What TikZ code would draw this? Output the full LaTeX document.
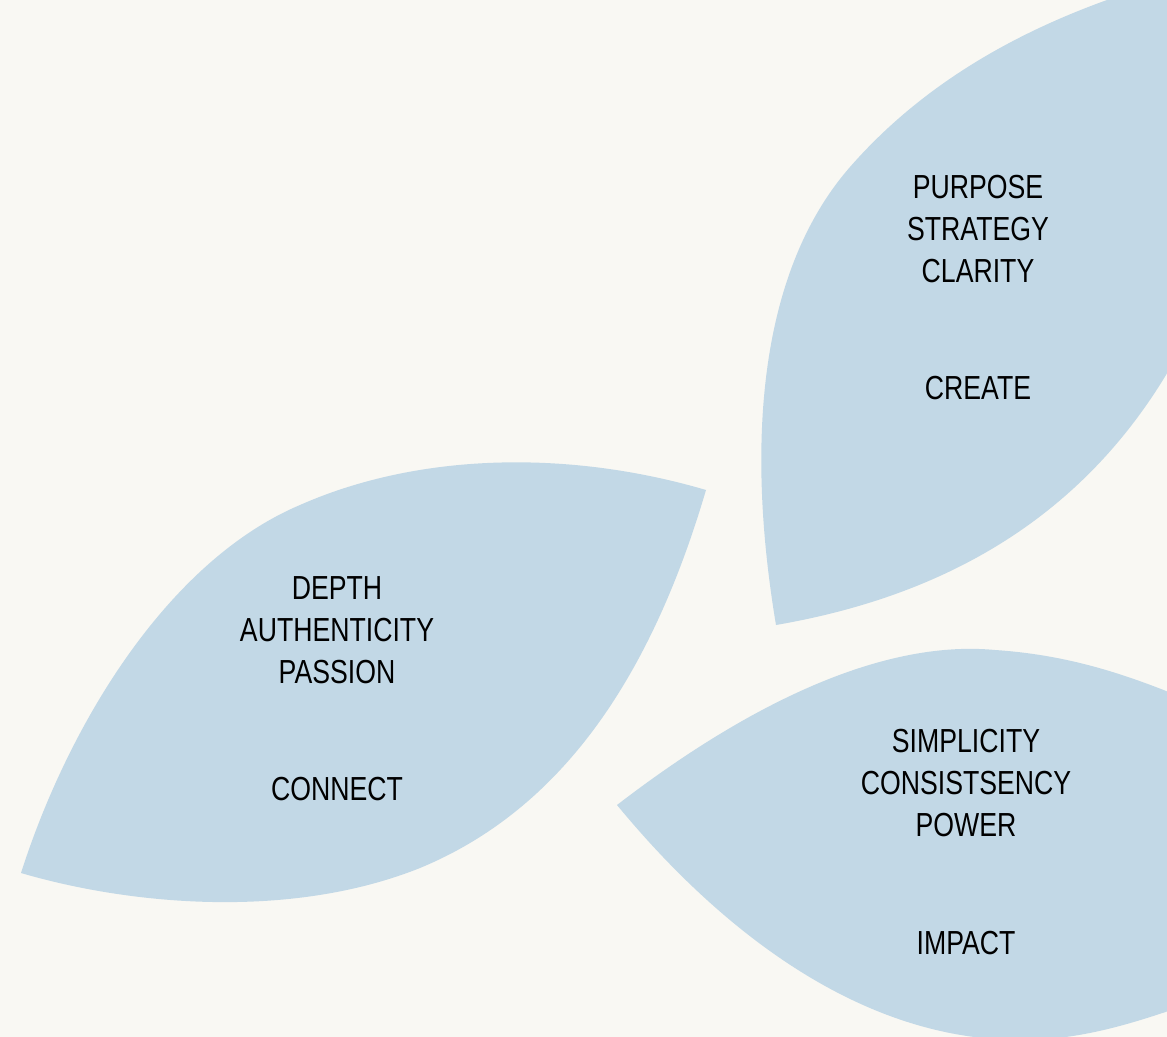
\documentclass[tikz,border=0pt]{standalone}
\usepackage{fontspec}
\usepackage{graphicx}
\setmainfont{Liberation Sans}
\definecolor{bgc}{HTML}{F9F8F3}
\definecolor{leafc}{HTML}{C2D8E6}
\tikzset{
  leaf/.style={fill=leafc, draw=none},
  lbl/.style={font=\fontsize{25}{31.5}\selectfont, text=black, inner sep=0pt, align=center},
}
\newcommand{\sq}[1]{\scalebox{0.8}[1]{#1}}
\begin{document}
\begin{tikzpicture}[x=0.75pt,y=-0.75pt]
\fill[bgc] (0,0) rectangle (1167,1037);
\useasboundingbox (0,0) rectangle (1167,1037);
\begin{scope}
\clip (0,0) rectangle (1167,1037);
% top-right leaf
\path[leaf] (776,625) .. controls (745,440) and (760,270) .. (850,167)
  .. controls (920,87) and (1010,35) .. (1107,0)
  -- (1180,-28) -- (1260,-28) -- (1260,250) -- (1200,310)
  .. controls (1110,510) and (950,595) .. (776,625) -- cycle;
% left leaf
\path[leaf] (21,873) .. controls (70,720) and (170,560) .. (300,505)
  .. controls (420,452) and (570,450) .. (706,490)
  .. controls (650,680) and (560,810) .. (420,868)
  .. controls (290,920) and (130,905) .. (21,873) -- cycle;
% bottom-right leaf
\path[leaf] (617,805) .. controls (760,695) and (890,640) .. (995,650)
  .. controls (1070,655) and (1130,675) .. (1200,705)
  -- (1260,705) -- (1260,1060) -- (1200,1000)
  .. controls (1130,1025) and (1080,1040) .. (1020,1040)
  .. controls (860,1040) and (720,930) .. (617,805) -- cycle;
\end{scope}
% labels
\node[lbl, anchor=base] (p1) at (978,199) {\sq{PURPOSE}};
\node[lbl, anchor=base] (p2) at (978,241) {\sq{STRATEGY}};
\node[lbl, anchor=base] (p3) at (978,283) {\sq{CLARITY}};
\node[lbl, anchor=base] (p4) at (978,400) {\sq{CREATE}};
\node[lbl, anchor=base] (c1) at (337,599) {\sq{DEPTH}};
\node[lbl, anchor=base] (c2) at (337,641) {\sq{AUTHENTICITY}};
\node[lbl, anchor=base] (c3) at (337,683) {\sq{PASSION}};
\node[lbl, anchor=base] (c4) at (337,800) {\sq{CONNECT}};
\node[lbl, anchor=base] (s1) at (966,752) {\sq{SIMPLICITY}};
\node[lbl, anchor=base] (s2) at (966,794) {\sq{CONSISTSENCY}};
\node[lbl, anchor=base] (s3) at (966,836) {\sq{POWER}};
\node[lbl, anchor=base] (s4) at (966,954) {\sq{IMPACT}};
\end{tikzpicture}
\end{document}
